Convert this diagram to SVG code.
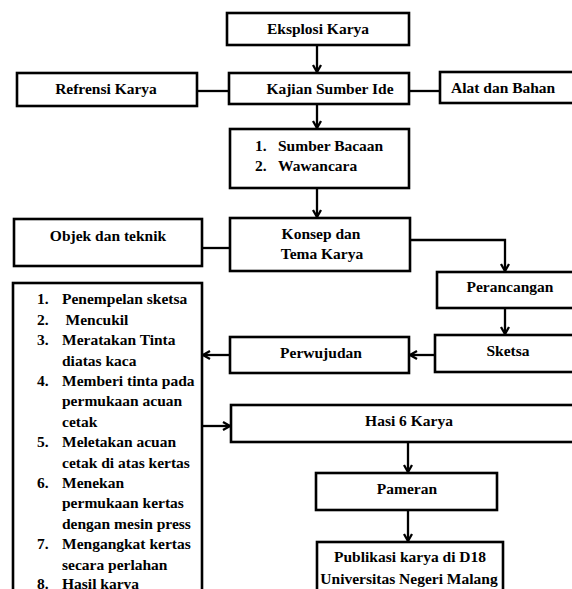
<svg xmlns="http://www.w3.org/2000/svg" width="572" height="589" viewBox="0 0 572 589">
<style>
.box{fill:#fff;stroke:#000;stroke-width:2.6}
.t{font-family:"Liberation Serif","Times New Roman",serif;font-weight:bold;font-size:15.5px;fill:#000}
.c{text-anchor:middle}
.ln{fill:none;stroke:#000;stroke-width:2.3}
</style>
<defs>
<marker id="ah" viewBox="0 0 10 10" refX="9" refY="5" markerWidth="10" markerHeight="10" markerUnits="userSpaceOnUse" orient="auto">
<path d="M2,1 L9,5 L2,9" fill="none" stroke="#000" stroke-width="2.3"/>
</marker>
</defs>
<rect width="572" height="589" fill="#fff"/>
<g id="connectors">
<line class="ln" x1="317" y1="45" x2="317" y2="72" marker-end="url(#ah)"/>
<line class="ln" x1="197" y1="91" x2="229" y2="91"/>
<line class="ln" x1="409" y1="91" x2="440" y2="91"/>
<line class="ln" x1="317" y1="104" x2="317" y2="128" marker-end="url(#ah)"/>
<line class="ln" x1="317" y1="188" x2="317" y2="217" marker-end="url(#ah)"/>
<line class="ln" x1="202" y1="248" x2="230" y2="248"/>
<polyline class="ln" points="410,240 505,240 505,271" marker-end="url(#ah)"/>
<line class="ln" x1="505" y1="308" x2="505" y2="334" marker-end="url(#ah)"/>
<line class="ln" x1="435" y1="355" x2="410" y2="355" marker-end="url(#ah)"/>
<line class="ln" x1="230" y1="355" x2="203" y2="355" marker-end="url(#ah)"/>
<line class="ln" x1="202" y1="426" x2="230" y2="426" marker-end="url(#ah)"/>
<line class="ln" x1="408" y1="442" x2="408" y2="472" marker-end="url(#ah)"/>
<line class="ln" x1="408" y1="510" x2="408" y2="541" marker-end="url(#ah)"/>
</g>
<g id="eksplosi">
<rect class="box" x="227" y="13" width="182" height="32"/>
<text class="t c" x="318" y="34">Eksplosi Karya</text>
</g>
<g id="kajian">
<rect class="box" x="229" y="73" width="180" height="31"/>
<text class="t c" x="330" y="94">Kajian Sumber Ide</text>
</g>
<g id="refrensi">
<rect class="box" x="17" y="73" width="180" height="33"/>
<text class="t c" x="106" y="94">Refrensi Karya</text>
</g>
<g id="alat">
<rect class="box" x="440" y="72" width="135" height="31"/>
<text class="t" x="451" y="93">Alat dan Bahan</text>
</g>
<g id="sumber">
<rect class="box" x="230" y="129" width="179" height="59"/>
<text class="t" x="255" y="150.5">1.</text>
<text class="t" x="278" y="150.5">Sumber Bacaan</text>
<text class="t" x="255" y="170.5">2.</text>
<text class="t" x="278" y="170.5">Wawancara</text>
</g>
<g id="objek">
<rect class="box" x="14" y="219" width="188" height="47"/>
<text class="t c" x="108" y="240.5">Objek dan teknik</text>
</g>
<g id="konsep">
<rect class="box" x="230" y="218" width="180" height="53"/>
<text class="t c" x="321" y="239">Konsep dan</text>
<text class="t c" x="322" y="259">Tema Karya</text>
</g>
<g id="perancangan">
<rect class="box" x="437" y="272" width="138" height="36"/>
<text class="t c" x="510" y="292">Perancangan</text>
</g>
<g id="sketsa">
<rect class="box" x="435" y="335" width="140" height="37"/>
<text class="t c" x="508" y="356">Sketsa</text>
</g>
<g id="perwujudan">
<rect class="box" x="230" y="337" width="179" height="36"/>
<text class="t c" x="321" y="358">Perwujudan</text>
</g>
<g id="langkah">
<rect class="box" x="13" y="283" width="189" height="320"/>
<text class="t" x="37" y="304.3">1.</text>
<text class="t" x="62" y="304.3">Penempelan sketsa</text>
<text class="t" x="37" y="324.7">2.</text>
<text class="t" x="65.5" y="324.7">Mencukil</text>
<text class="t" x="37" y="345.1">3.</text>
<text class="t" x="62" y="345.1">Meratakan Tinta</text>
<text class="t" x="62" y="365.5">diatas kaca</text>
<text class="t" x="37" y="385.9">4.</text>
<text class="t" x="62" y="385.9">Memberi tinta pada</text>
<text class="t" x="62" y="406.3">permukaan acuan</text>
<text class="t" x="62" y="426.7">cetak</text>
<text class="t" x="37" y="447.1">5.</text>
<text class="t" x="62" y="447.1">Meletakan acuan</text>
<text class="t" x="62" y="467.5">cetak di atas kertas</text>
<text class="t" x="37" y="487.9">6.</text>
<text class="t" x="62" y="487.9">Menekan</text>
<text class="t" x="62" y="508.3">permukaan kertas</text>
<text class="t" x="62" y="528.7">dengan mesin press</text>
<text class="t" x="37" y="549.1">7.</text>
<text class="t" x="62" y="549.1">Mengangkat kertas</text>
<text class="t" x="62" y="569.5">secara perlahan</text>
<text class="t" x="37" y="588.5">8.</text>
<text class="t" x="62" y="588.5">Hasil karya</text>
</g>
<g id="hasil">
<rect class="box" x="231" y="405" width="344" height="37"/>
<text class="t c" x="409" y="426">Hasi 6 Karya</text>
</g>
<g id="pameran">
<rect class="box" x="316" y="473" width="181" height="37"/>
<text class="t c" x="407" y="494">Pameran</text>
</g>
<g id="publikasi">
<rect class="box" x="317" y="542" width="186" height="60"/>
<text class="t c" x="410" y="562">Publikasi karya di D18</text>
<text class="t c" x="409" y="584">Universitas Negeri Malang</text>
</g>
</svg>
